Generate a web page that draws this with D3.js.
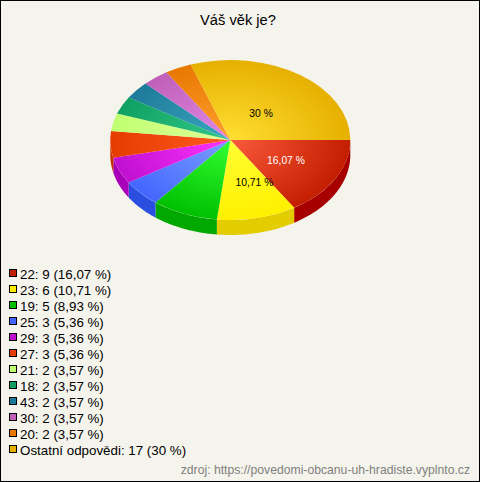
<!DOCTYPE html>
<html><head><meta charset="utf-8">
<script src="https://cdnjs.cloudflare.com/ajax/libs/d3/7.8.5/d3.min.js"></script>
<style>html,body{margin:0;padding:0;background:#fff}svg{display:block}text{font-family:"Liberation Sans",Arial,sans-serif}</style>
</head><body><svg id="c" width="480" height="482"></svg>
<script>
const categories=["22","23","19","25","29","27","21","18","43","30","20","Ostatní odpovědi"];
const counts=[9,6,5,3,3,3,2,2,2,2,2,17];
const percentLabels=["16,07 %","10,71 %","8,93 %","5,36 %","5,36 %","5,36 %","3,57 %","3,57 %","3,57 %","3,57 %","3,57 %","30 %"];
const baseColors=["#c41e00","#fff000","#00c000","#4466ff","#c010d0","#e63c00","#c0ff70","#0ea060","#1e7a9a","#c060b8","#e87800","#e6b000"];
const innerColors=["#fb5a3c","#ffff33","#33ff33","#7a9fff","#ff33ff","#ff5a1e","#e0ff99","#33c98a","#3aa8c0","#e088e8","#ffa030","#ffdf33"];
const sideColors=["#a60000","#e3cc00","#00a800","#2a4ee0","#a800b8","#c83000","#a0e050","#008040","#005a7a","#a04098","#c85800","#c69000"];
const titleText="Váš věk je?";
const sourceText="zdroj: https://povedomi-obcanu-uh-hradiste.vyplnto.cz";

const svg=d3.select("#c");
svg.append("rect").attr("x",.5).attr("y",.5).attr("width",479).attr("height",481).attr("fill","#f5f4ec").attr("stroke","#000");
svg.append("text").attr("x",238).attr("y",25).attr("text-anchor","middle").attr("font-size",14.7).attr("fill","#000").text(titleText);

const cx=230.3,cy=140,rx=120,ry=80,depth=15;
const pie=d3.pie().sort(null).startAngle(Math.PI/2).endAngle(Math.PI*2.5);
const arcs=pie(counts);
const defs=svg.append("defs");
arcs.forEach((d,i)=>{
  const g=defs.append("radialGradient").attr("id","g"+i).attr("gradientUnits","userSpaceOnUse")
    .attr("cx",0).attr("cy",0).attr("r",1);
  g.append("stop").attr("offset",0).attr("stop-color",innerColors[i]);
  g.append("stop").attr("offset",1).attr("stop-color",baseColors[i]);
});
// side wall
const px=a=>Math.sin(a)*rx, py=a=>-Math.cos(a)*ry;
const wall=svg.append("g").attr("transform",`translate(${cx},${cy})`);
arcs.forEach((d,i)=>{
  const a0=Math.max(d.startAngle,Math.PI/2),a1=Math.min(d.endAngle,Math.PI*1.5);
  if(a1<=a0)return;
  const s=d3.range(0,41).map(k=>a0+(a1-a0)*k/40);
  const pts=s.map(a=>[px(a),py(a)]).concat(s.slice().reverse().map(a=>[px(a),py(a)+depth]));
  wall.append("path").attr("d",d3.line()(pts)+"Z").attr("fill",sideColors[i]);
});
// top
const arc=d3.arc().innerRadius(0).outerRadius(1);
const topFace=svg.append("g").attr("transform",`translate(${cx},${cy}) scale(${rx},${ry})`);
topFace.selectAll("path").data(arcs).join("path").attr("d",arc).attr("fill",(d,i)=>`url(#g${i})`);
// labels
const labelSlices=[[0,"#fff",0,-1],[1,"#000",10,1],[11,"#000",-6,8]];
labelSlices.forEach(([i,col,nx,ny])=>{
  const m=(arcs[i].startAngle+arcs[i].endAngle)/2;
  svg.append("text").attr("x",cx+px(m)*.53+nx).attr("y",cy+py(m)*.53+ny+4).attr("text-anchor","middle")
    .attr("font-size",10.3).attr("fill",col).text(percentLabels[i]);
});
// legend
const legendY=d3.scaleLinear().domain([0,1]).range([274,290]);
const leg=svg.append("g");
categories.forEach((c,i)=>{
  const y=legendY(i);
  leg.append("rect").attr("x",9.5).attr("y",y-4.5).attr("width",7).attr("height",7).attr("fill",baseColors[i]).attr("stroke","#000");
  leg.append("text").attr("x",20).attr("y",y+5).attr("font-size",13.35).attr("fill","#000").text(`${c}: ${counts[i]} (${percentLabels[i]})`);
});
svg.append("text").attr("x",470).attr("y",474).attr("text-anchor","end").attr("font-size",12.2).attr("fill","#808080").text(sourceText);
</script></body></html>
